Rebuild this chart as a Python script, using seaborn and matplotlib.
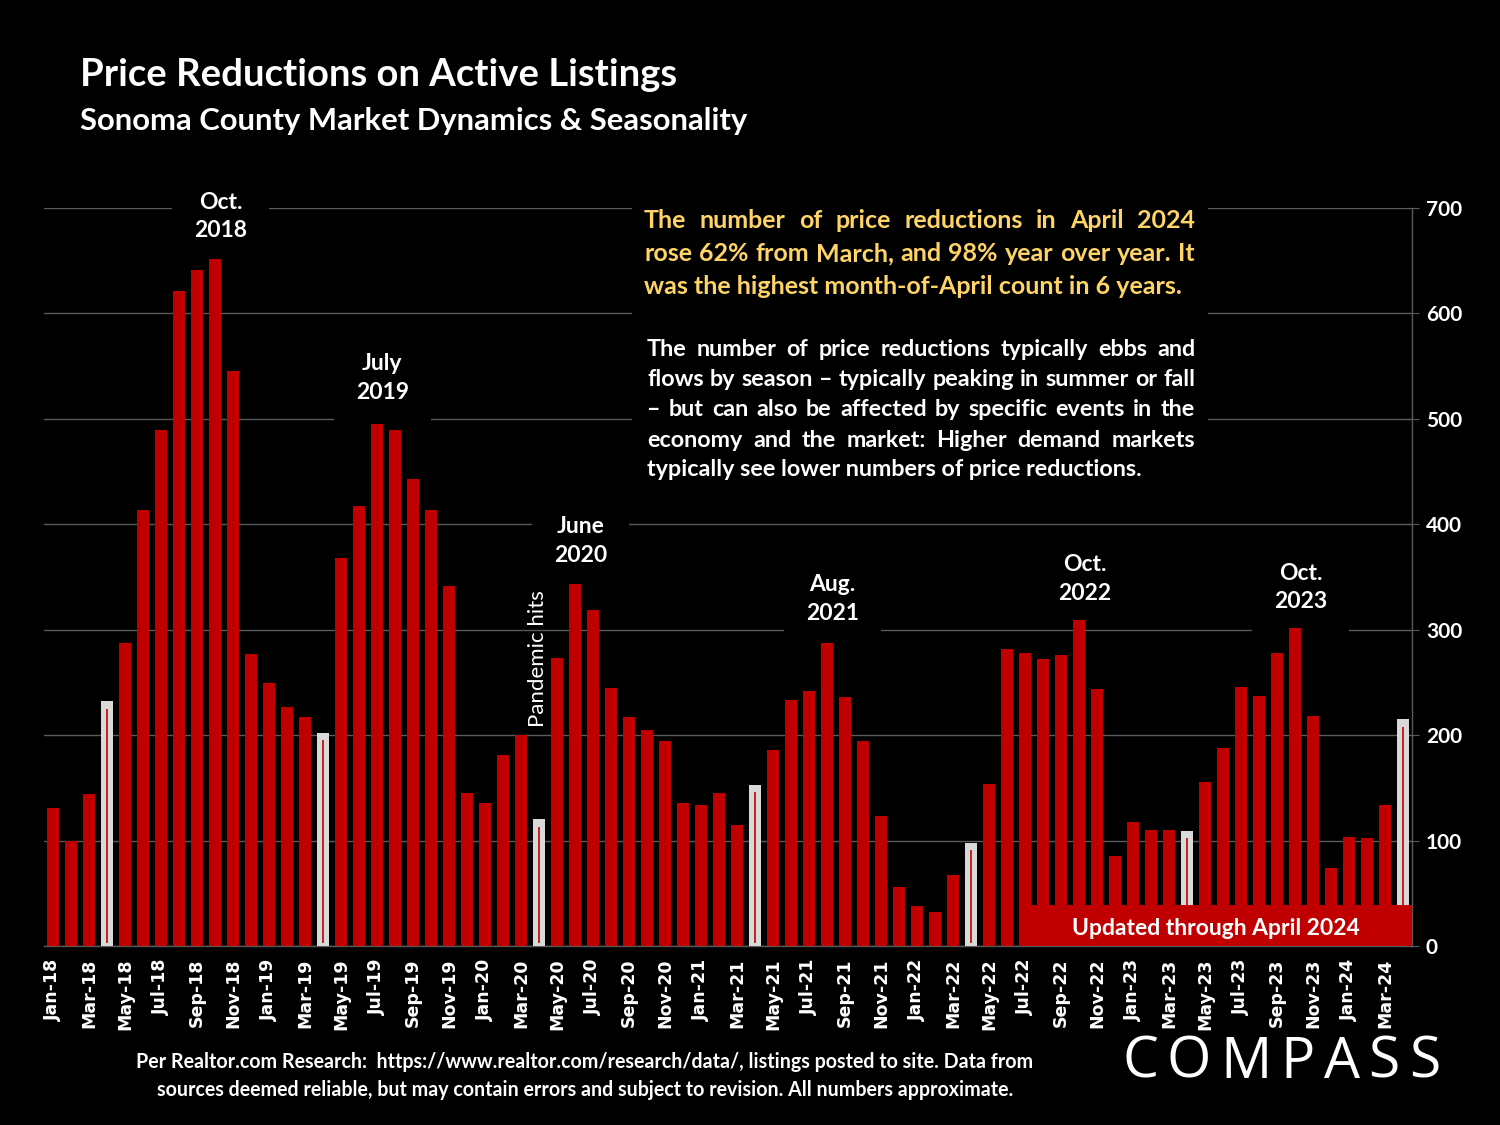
import numpy as np
import pandas as pd
import matplotlib
matplotlib.use('Agg')
import matplotlib.pyplot as plt
from matplotlib.patches import Rectangle
import seaborn as sns

# monthly price reductions, Jan-2018 .. Apr-2024
months = pd.date_range('2018-01-01', '2024-04-01', freq='MS').strftime('%b-%y').tolist()
reductions = [
    131, 100, 144, 232, 287, 414, 489, 621, 641, 652, 545, 277,   # 2018
    249, 227, 217, 202, 368, 417, 495, 489, 443, 414, 341, 145,   # 2019
    136, 181, 200, 120, 273, 343, 319, 245, 217, 205, 194, 136,   # 2020
    134, 145, 115, 153, 186, 233, 242, 287, 236, 194, 123, 56,    # 2021
    38, 32, 67, 98, 154, 282, 278, 272, 276, 309, 244, 85,        # 2022
    118, 110, 110, 109, 156, 188, 246, 237, 278, 302, 218, 74,    # 2023
    103, 102, 134, 215,                                          # 2024
]
y_ticks = [0, 100, 200, 300, 400, 500, 600, 700]

# peak callouts: (month label, text, value level for the label)
callouts = [
    ('Oct-18', 'Oct.\n2018', 692),
    ('Jul-19', 'July\n2019', 539),
    ('Jun-20', 'June\n2020', 384),
    ('Aug-21', 'Aug.\n2021', 329),
    ('Oct-22', 'Oct.\n2022', 348),
    ('Oct-23', 'Oct.\n2023', 340),
]

yellow_lines = [
    'The number of price reductions in April 2024',
    'rose 62% from March, and 98% year over year. It',
    'was the highest month-of-April count in 6 years.',
]
white_lines = [
    'The number of price reductions typically ebbs and',
    'flows by season \u2013 typically peaking in summer or fall',
    '\u2013 but can also be affected by specific events in the',
    'economy and the market: Higher demand markets',
    'typically see lower numbers of price reductions.',
]

RED = '#C00000'
GREY_BAR = '#D9D9D9'
YELLOW = '#FFD466'
GRID = '#5A5A5A'
W, H = 1500, 1125

df = pd.DataFrame({'month': months, 'value': reductions})
df['april'] = df['month'].str.startswith('Apr')

sns.set_style('dark')
plt.rcParams['font.family'] = ['Lato', 'DejaVu Sans']

fig = plt.figure(figsize=(15, 11.25), dpi=100, facecolor='black')
ax = fig.add_axes([44 / W, 1 - 946 / H, (1412 - 44) / W, (946 - 208) / H])
ax.set_facecolor('black')

sns.barplot(data=df, x='month', y='value', hue='april',
            palette={False: RED, True: GREY_BAR}, width=0.72,
            dodge=False, legend=False, saturation=1, ax=ax, zorder=3,
            edgecolor='none', linewidth=0)

# thin red line inside the April bars
apr_idx = df.index[df['april']].to_numpy()
apr_val = df.loc[df['april'], 'value'].to_numpy()
ax.vlines(apr_idx, 3, apr_val - 7, color=RED, lw=1.2, zorder=4)

ax.set_xlim(-0.5, len(months) - 0.5)
ax.set_ylim(0, 700)
ax.set_xlabel('')
ax.set_ylabel('')

# x axis: every other month labelled, ticks at category boundaries
ax.set_xticks(range(0, len(months), 2))
ax.set_xticklabels(months[::2], rotation=90, fontsize=12.5, fontweight='bold',
                   color='white', family='DejaVu Sans')
ax.set_xticks(np.arange(-0.5, len(months), 2), minor=True)
ax.tick_params(axis='x', which='major', length=0, pad=9)
ax.tick_params(axis='x', which='minor', length=6, color=GRID, direction='out')

# right y axis
ax.yaxis.tick_right()
ax.set_yticks(y_ticks)
ax.set_yticklabels([str(v) for v in y_ticks], fontsize=15, fontweight='bold', color='white')
ax.tick_params(axis='y', length=10, color=GRID, direction='inout', pad=5)
ax.grid(axis='y', color=GRID, lw=1)
ax.grid(axis='x', visible=False)
ax.set_axisbelow(True)
for side in ['top', 'left']:
    ax.spines[side].set_visible(False)
for side in ['bottom', 'right']:
    ax.spines[side].set_visible(True)
    ax.spines[side].set_color(GRID)
    ax.spines[side].set_linewidth(1)

# black panel behind the commentary (hides gridlines)
fig.patches.append(Rectangle((632 / W, 1 - 494 / H), (1208 - 632) / W, (494 - 196) / H,
                             transform=fig.transFigure, facecolor='black',
                             edgecolor='none', zorder=1.5))
ax.set_zorder(1)

# peak callouts (box sits under the bars, hides gridlines only)
for m, txt, level in callouts:
    ax.text(months.index(m) + 0.3, level, txt, ha='center', va='center',
            color='white', fontsize=16.5, fontweight='bold', linespacing=1.45,
            bbox=dict(facecolor='black', edgecolor='none', pad=16), zorder=2.5)

ax.text(months.index('Apr-20') - 0.05, 273, 'Pandemic hits', rotation=90,
        ha='center', va='center', color='white', fontsize=16, zorder=5)

# "Updated through" banner on top of the bars
ax.add_patch(Rectangle((53.7, 0), len(months) - 0.5 - 53.7, 39, facecolor=RED,
                       edgecolor='none', zorder=6))
ax.text(64.6, 17, 'Updated through April 2024', ha='center', va='center',
        color='white', fontsize=16.5, fontweight='bold', zorder=7)

# titles and footer
fig.text(80 / W, 1 - 75 / H, 'Price Reductions on Active Listings', color='white',
         fontsize=27.5, fontweight='bold', va='center')
fig.text(80 / W, 1 - 121 / H, 'Sonoma County Market Dynamics & Seasonality', color='white',
         fontsize=22.3, fontweight='bold', va='center')
fig.text(585 / W, 1 - 1076 / H,
         'Per Realtor.com Research:  https://www.realtor.com/research/data/, listings posted to site. Data from\n'
         'sources deemed reliable, but may contain errors and subject to revision. All numbers approximate.',
         color='white', fontsize=14.1, fontweight='bold', ha='center', va='center',
         linespacing=1.45)

renderer = fig.canvas.get_renderer()


def justified(lines, x0, x1, y0, step, color, size, last_ragged=True,
              weight='bold', family=None):
    # spread words of each line evenly between x0 and x1 (pixel coords)
    kw = dict(color=color, fontsize=size, fontweight=weight, va='center', ha='left')
    if family:
        kw['family'] = family
    for i, line in enumerate(lines):
        y = 1 - (y0 + i * step) / H
        words = line.split()
        if (last_ragged and i == len(lines) - 1) or len(words) == 1:
            fig.text(x0 / W, y, ' '.join(words), **kw)
            continue
        arts = [fig.text(0, y, w, **kw) for w in words]
        widths = [a.get_window_extent(renderer).width for a in arts]
        gap = (x1 - x0 - sum(widths)) / (len(words) - 1)
        x = x0
        for a, wd in zip(arts, widths):
            a.set_x(x / W)
            x += wd + gap


justified(yellow_lines, 644, 1195, 221, 32.5, YELLOW, 18)
justified(white_lines, 647, 1195, 350, 30, 'white', 16.8)
# logo wordmark with wide letter spacing
justified(['C O M P A S S'], 1122, 1440, 1063, 0, 'white', 41, last_ragged=False,
          weight='normal', family='Open Sans')

fig.savefig('out.png', dpi=100, facecolor='black')
